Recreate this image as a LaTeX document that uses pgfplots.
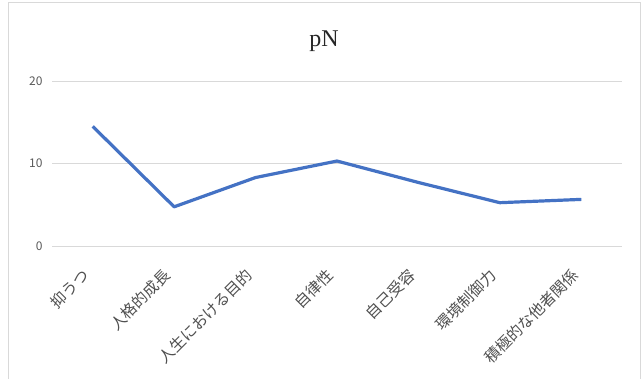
\documentclass[border=0pt]{standalone}
\usepackage{fontspec}
\setmainfont{Liberation Serif}
\newfontfamily\jp{Noto Sans CJK JP}
\usepackage{pgfplots}
\pgfplotsset{compat=1.18}
\definecolor{excelblue}{RGB}{68,114,196}
\definecolor{tickgray}{RGB}{89,89,89}
\definecolor{gridgray}{RGB}{217,217,217}
\begin{document}
\begin{tikzpicture}[x=1bp,y=1bp]
\useasboundingbox (0,0) rectangle (644,378);
\draw[gridgray, line width=1.2bp] (8.5,-10) -- (8.5,375.5) -- (640.5,375.5) -- (640.5,-10);
\begin{axis}[
  at={(52bp,132bp)}, anchor=south west,
  scale only axis, width=570bp, height=165bp,
  xmin=-0.5, xmax=6.5, ymin=0, ymax=20,
  axis line style={draw=none},
  major tick length=0pt,
  ymajorgrids, grid style={gridgray, line width=1bp},
  ytick={0,10,20},
  yticklabel style={font=\jp\fontsize{12bp}{14bp}\selectfont, text=tickgray, xshift=-6bp},
  /pgf/number format/assume math mode=true,
  xtick={0,...,6},
  xticklabels={抑うつ,人格的成長,人生における目的,自律性,自己受容,環境制御力,積極的な他者関係},
  xticklabel style={font=\jp\fontsize{15.5bp}{17bp}\selectfont, text=tickgray!90!black, xshift=-4bp, yshift=-24bp, rotate=45, anchor=east},
  clip=false,
]
\addplot[excelblue, line width=3.2bp, line join=round] coordinates {
  (0,14.5) (1,4.75) (2,8.3) (3,10.3) (4,7.7) (5,5.25) (6,5.65)
};
\end{axis}
\node[anchor=base, font=\fontsize{24bp}{28bp}\selectfont, text=black!85] at (324bp,331bp) {pN};
\end{tikzpicture}
\end{document}
